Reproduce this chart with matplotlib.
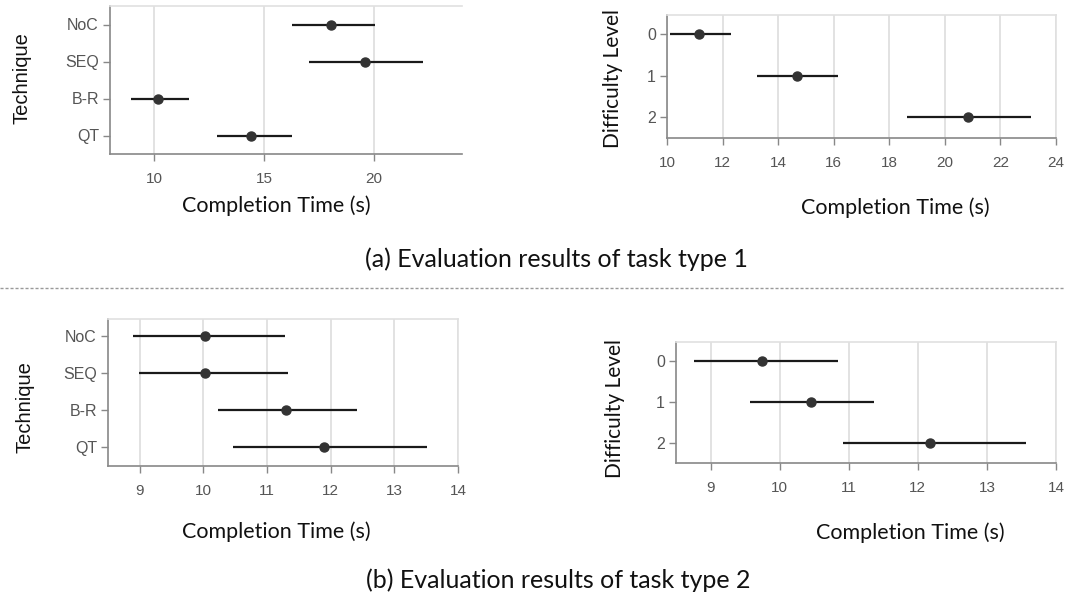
import matplotlib
matplotlib.use("Agg")
import matplotlib.pyplot as plt
from matplotlib.lines import Line2D

W, H = 1065, 605

# Task type 1
tech_labels = ["NoC", "SEQ", "B-R", "QT"]
t1_tech_mean = [18.03, 19.60, 10.18, 14.42]
t1_tech_low = [16.29, 17.06, 8.95, 12.85]
t1_tech_high = [20.03, 22.24, 11.60, 16.27]

diff_labels = ["0", "1", "2"]
t1_diff_mean = [11.16, 14.69, 20.83]
t1_diff_low = [10.12, 13.25, 18.65]
t1_diff_high = [12.31, 16.16, 23.09]

# Task type 2
t2_tech_mean = [10.02, 10.02, 11.29, 11.90]
t2_tech_low = [8.90, 8.99, 10.23, 10.47]
t2_tech_high = [11.28, 11.33, 12.41, 13.52]

t2_diff_mean = [9.75, 10.46, 12.17]
t2_diff_low = [8.76, 9.57, 10.91]
t2_diff_high = [10.84, 11.37, 13.57]

TICK_FONT = "Liberation Sans"
LABEL_FONT = "Lato"

fig = plt.figure(figsize=(W / 100, H / 100), dpi=100)


def px_axes(left, top, right, bottom):
    return fig.add_axes([left / W, 1 - bottom / H, (right - left) / W, (bottom - top) / H])


def ci_panel(ax, labels, mean, low, high, xlim, xticks, ylim, show_right=True):
    ys = list(range(len(labels)))
    for y, m, lo, hi in zip(ys, mean, low, high):
        ax.plot([lo, hi], [y, y], color="#1a1a1a", lw=1.6, solid_capstyle="butt", zorder=3,
                clip_on=False)
        ax.plot([m], [y], "o", color="#333333", ms=6.5, zorder=4, clip_on=False)
    ax.set_xlim(*xlim)
    ax.set_ylim(*ylim)
    ax.set_xticks(xticks)
    ax.set_yticks(ys)
    ax.set_yticklabels(labels)
    ax.grid(axis="x", color="#dddddd", lw=1.2)
    ax.set_axisbelow(True)
    for side in ("left", "bottom"):
        ax.spines[side].set_color("#888888")
        ax.spines[side].set_linewidth(1.2)
    for side in ("top", "right"):
        ax.spines[side].set_color("#e0e0e0")
        ax.spines[side].set_linewidth(1.2)
    ax.spines["right"].set_visible(show_right)
    ax.tick_params(axis="both", colors="#888888", length=5, width=1, labelcolor="#555555")
    ax.tick_params(axis="x", labelsize=11, pad=8)
    ax.tick_params(axis="y", labelsize=11.5, pad=3)
    for lab in ax.get_xticklabels() + ax.get_yticklabels():
        lab.set_fontfamily(TICK_FONT)


# (a) technique
ax1 = px_axes(110, 6, 462, 154)
ci_panel(ax1, tech_labels, t1_tech_mean, t1_tech_low, t1_tech_high,
         (8, 24), [10, 15, 20], (3.5, -0.5), show_right=False)

# (a) difficulty
ax2 = px_axes(667, 15, 1056, 138)
ci_panel(ax2, diff_labels, t1_diff_mean, t1_diff_low, t1_diff_high,
         (10, 24), list(range(10, 25, 2)), (2.5, -0.46))

# (b) technique
ax3 = px_axes(108, 319, 458, 466)
ci_panel(ax3, tech_labels, t2_tech_mean, t2_tech_low, t2_tech_high,
         (8.5, 14), list(range(9, 15)), (3.5, -0.45))

# (b) difficulty
ax4 = px_axes(676, 342, 1056, 463)
ci_panel(ax4, diff_labels, t2_diff_mean, t2_diff_low, t2_diff_high,
         (8.5, 14), list(range(9, 15)), (2.5, -0.46))


def fig_text(x, y, s, size, rotation=0, family=LABEL_FONT):
    fig.text(x / W, 1 - y / H, s, ha="center", va="center", fontsize=size,
             family=family, rotation=rotation, color="#111111")


fig_text(276, 206, "Completion Time (s)", 15.5)
fig_text(895, 208, "Completion Time (s)", 15.5)
fig_text(276, 532, "Completion Time (s)", 15.5)
fig_text(910, 533, "Completion Time (s)", 15.5)
fig_text(22, 78, "Technique", 14.5, rotation=90, family=TICK_FONT)
fig_text(613, 78, "Difficulty Level", 15, rotation=90)
fig_text(25, 407, "Technique", 14.5, rotation=90, family=TICK_FONT)
fig_text(615, 408, "Difficulty Level", 15, rotation=90)

fig_text(556, 259, "(a) Evaluation results of task type 1", 18)
fig_text(558, 580, "(b) Evaluation results of task type 2", 18)

fig.add_artist(Line2D([0, 1], [1 - 287.5 / H] * 2, transform=fig.transFigure,
                      color="#999999", lw=1.0, dashes=(2.2, 1.4)))

fig.savefig("out.png", dpi=100, facecolor="white")
